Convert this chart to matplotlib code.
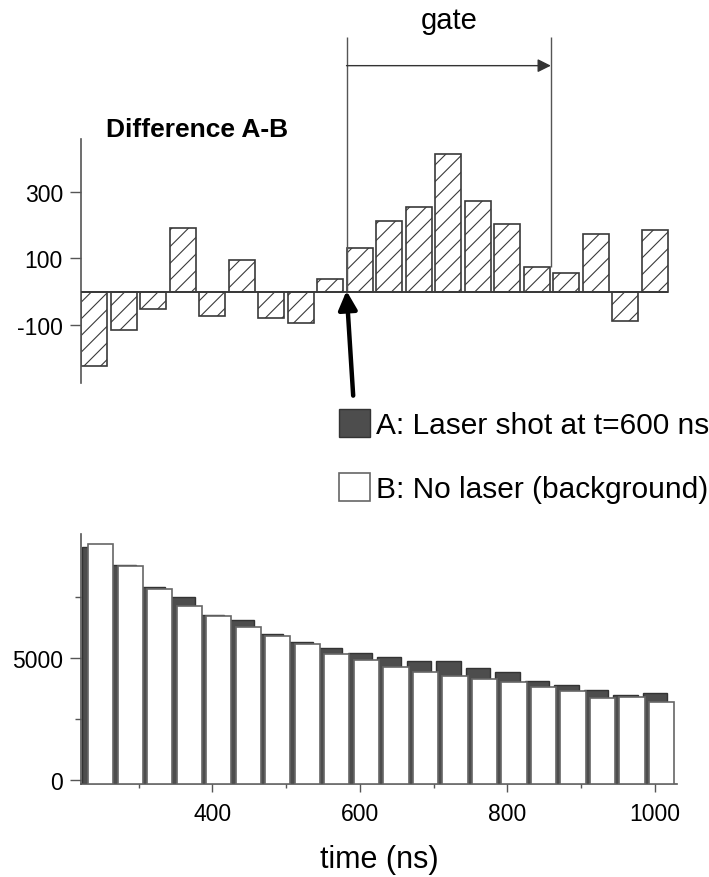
import numpy as np
import matplotlib
matplotlib.use("Agg")
import matplotlib.pyplot as plt
from matplotlib.ticker import FixedLocator

plt.rcParams["font.family"] = ["Liberation Sans", "DejaVu Sans"]
plt.rcParams["hatch.linewidth"] = 0.8
plt.rcParams["axes.unicode_minus"] = False

# bin centres (ns), 40 ns bins
time_ns = [240, 280, 320, 360, 400, 440, 480, 520, 560, 600,
           640, 680, 720, 760, 800, 840, 880, 920, 960, 1000]

# top panel: difference A-B
diff_ab = [-225, -115, -53, 192, -73, 96, -80, -96, 38, 130,
           214, 254, 415, 274, 204, 73, 56, 173, -89, 185]

# bottom panel: counts
laser_a = [9525, 8800, 7910, 7500, 6762, 6545, 5971, 5631, 5398, 5193,
           5016, 4852, 4852, 4566, 4402, 4033, 3881, 3676, 3484, 3541]
background_b = [9660, 8746, 7816, 7131, 6697, 6246, 5902, 5561, 5152, 4906,
                4606, 4426, 4262, 4127, 3992, 3811, 3648, 3336, 3402, 3197]

gate_start = 582
gate_end = 859
gate_index_end = 15
laser_time = 582

t = np.array(time_ns)
W, H = 709, 878
fig = plt.figure(figsize=(W / 100, H / 100), dpi=100)

edge = "#3a3a3a"
grey = "#555555"

# ---------------- top panel ----------------
ax1 = fig.add_axes([81 / W, 1 - 383.7 / H, 596 / W, 383.7 / H])
ax1.set_xlim(222, 1030)
ax1.set_ylim(-275, 882)
bw = 35
ax1.bar(t, diff_ab, width=bw, color="white", edgecolor=edge, hatch="//",
        linewidth=1.2, zorder=2)
ax1.hlines(0, 222, t[-1] + bw / 2, color=edge, lw=1.4, zorder=3)

for s in ["top", "right", "bottom"]:
    ax1.spines[s].set_visible(False)
ax1.spines["left"].set_bounds(-275, 460)
ax1.spines["left"].set_color(grey)
ax1.spines["left"].set_linewidth(1.2)
ax1.set_xticks([])
ax1.set_yticks([-100, 100, 300])
ax1.tick_params(axis="y", direction="out", length=8, width=1, color=grey,
                labelsize=16.5, pad=5)

ax1.text(379, 468, "Difference A-B", fontsize=19, fontweight="bold",
         ha="center", va="baseline")

# gate markers
ax1.vlines(gate_start, 0, 767, color=grey, lw=1)
ax1.vlines(gate_end, diff_ab[gate_index_end], 767, color=grey, lw=1)
ax1.annotate("", xy=(gate_end, 681), xytext=(gate_start, 681),
             arrowprops=dict(arrowstyle="-|>", lw=1, color="#333333",
                             mutation_scale=20, shrinkA=0, shrinkB=0))
ax1.text((gate_start + gate_end) / 2, 796, "gate", fontsize=21,
         ha="center", va="baseline")

# laser shot arrow
ax1.annotate("", xy=(laser_time, 2), xytext=(591, -314),
             arrowprops=dict(arrowstyle="-|>", lw=3.2, color="black",
                             mutation_scale=28, shrinkA=0, shrinkB=0),
             annotation_clip=False)

# ---------------- bottom panel ----------------
ax2 = fig.add_axes([81 / W, 1 - 784.85 / H, 596 / W, 250 / H])
base = -170
ax2.set_xlim(222, 1030)
ax2.set_ylim(base, 10070)
bars_a = ax2.bar(t, np.array(laser_a) - base, bottom=base, width=33,
                 color="#4d4d4d", edgecolor="#333333", linewidth=1,
                 label="A: Laser shot at t=600 ns", zorder=2)
bars_b = ax2.bar(t + 9, np.array(background_b) - base, bottom=base, width=34,
                 color="white", edgecolor="#666666", linewidth=1.2,
                 label="B: No laser (background)", zorder=3)

for s in ["top", "right"]:
    ax2.spines[s].set_visible(False)
for s in ["left", "bottom"]:
    ax2.spines[s].set_color(grey)
    ax2.spines[s].set_linewidth(1.2)

ax2.xaxis.set_major_locator(FixedLocator([400, 600, 800, 1000]))
ax2.xaxis.set_minor_locator(FixedLocator([300, 500, 700, 900]))
ax2.yaxis.set_major_locator(FixedLocator([0, 5000]))
ax2.yaxis.set_minor_locator(FixedLocator([2500, 7500]))
ax2.tick_params(axis="both", which="major", direction="out", width=1,
                color=grey, labelsize=16.5)
ax2.tick_params(axis="x", which="major", length=6, pad=7)
ax2.tick_params(axis="x", which="minor", length=3, width=1, color=grey)
ax2.tick_params(axis="y", which="major", length=8, pad=5)
ax2.tick_params(axis="y", which="minor", length=4, width=1, color=grey)
ax2.set_xlabel("time (ns)", fontsize=22, labelpad=14)

fig.legend(handles=[bars_a, bars_b], loc="upper left",
           bbox_to_anchor=(339 / W, 1 - 410 / H), frameon=False,
           fontsize=21.5, handlelength=1.05, handleheight=1.05,
           handletextpad=0.2, labelspacing=1.15, borderpad=0,
           borderaxespad=0)

fig.savefig("out.png", dpi=100)
